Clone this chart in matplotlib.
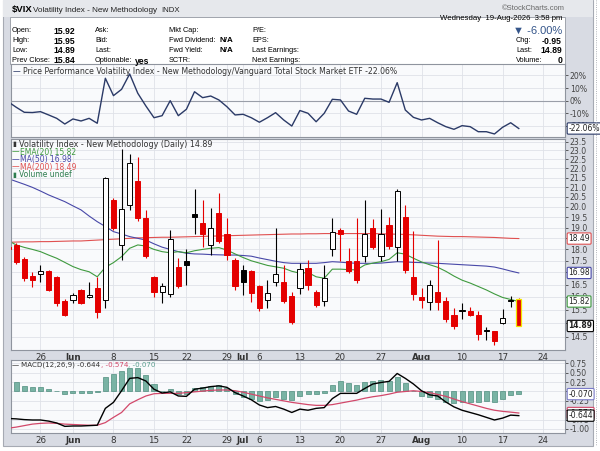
import matplotlib
matplotlib.use("Agg")
import matplotlib.pyplot as plt
from matplotlib.patches import Rectangle
from matplotlib.ticker import NullLocator

plt.rcParams['font.family'] = ['DejaVu Sans']

W, H = 600, 451

# trading-day index: 0 = 20 May 2026, -1 is the clipped candle at the left edge
days = list(range(-1, 63))

opens = [18.1, 18.2, 17.56, 16.85, 16.95, 17.05, 16.79, 15.84, 15.88, 16.28,
         15.99, 16.35, 15.88, 20.34, 18.2, 20.1, 21.3, 19.45, 16.79, 16.2,
         16.1, 17.25, 17.5, 19.65, 19.2, 18.2, 19.7, 18.7, 17.53, 17.1,
         17.05, 16.45, 15.88, 16.6, 16.6, 16.05, 16.35, 17.2, 16.2, 15.85,
         18.0, 18.9, 17.5, 17.5, 17.7, 19.0, 17.7, 19.1, 18.1, 19.5,
         16.8, 16.0, 15.8, 16.2, 15.85, 15.3, 15.45, 15.45, 15.3, 14.72,
         14.7, 15.0, 15.88, 15.92]
highs = [18.2, 18.3, 17.65, 17.0, 17.3, 17.12, 16.85, 15.9, 16.16, 16.32,
         16.62, 16.82, 21.55, 20.45, 23.1, 22.8, 22.64, 19.84, 16.85, 16.55,
         18.9, 17.62, 18.0, 20.9, 20.34, 19.95, 20.7, 19.45, 17.63, 17.32,
         17.1, 16.5, 16.68, 19.0, 17.32, 16.2, 17.4, 17.53, 16.28, 17.32,
         19.46, 19.0, 18.08, 19.46, 20.34, 19.4, 19.9, 19.5, 20.9, 20.1,
         18.82, 16.36, 16.69, 18.42, 15.99, 15.58, 15.75, 15.62, 15.45, 14.87,
         14.7, 15.52, 16.05, 15.95]
lows = [17.95, 17.38, 16.66, 16.4, 16.6, 16.22, 15.65, 15.25, 15.78, 15.72,
        15.95, 15.18, 15.55, 18.9, 17.53, 19.85, 19.3, 17.6, 16.0, 15.77,
        16.0, 16.35, 16.5, 18.7, 18.1, 17.75, 18.3, 17.53, 16.28, 16.06,
        15.82, 15.47, 15.55, 16.45, 15.78, 14.95, 16.1, 16.28, 15.62, 15.66,
        17.71, 17.5, 16.98, 16.55, 17.43, 18.0, 17.5, 18.0, 17.5, 16.98,
        15.88, 15.57, 15.5, 15.5, 15.05, 14.78, 15.14, 15.27, 14.39, 14.39,
        14.2, 14.98, 15.62, 14.89]
closes = [18.0, 17.45, 16.76, 16.69, 17.05, 16.28, 15.75, 15.3, 16.07, 15.78,
          16.07, 15.43, 21.5, 18.98, 19.89, 22.3, 19.44, 17.7, 16.2, 16.44,
          18.45, 16.45, 17.3, 19.5, 18.7, 19.0, 18.4, 17.76, 16.45, 16.6,
          16.15, 15.57, 16.15, 16.95, 15.84, 15.05, 17.15, 16.5, 15.7, 16.75,
          18.8, 18.7, 17.05, 16.7, 18.7, 18.1, 18.7, 18.15, 20.8, 17.1,
          16.1, 15.88, 16.5, 15.8, 15.15, 14.9, 15.5, 15.3, 14.6, 14.7,
          14.35, 15.2, 15.84, 14.89]

ema20 = [18.4, 18.2, 18.09, 18.0, 17.9, 17.75, 17.61, 17.43, 17.25, 17.12,
         17.03, 16.82, 17.22, 17.42, 17.68, 18.05, 18.2, 18.15, 18.0, 17.9,
         17.85, 17.9, 17.85, 17.94, 18.0, 18.05, 18.08, 17.97, 17.8, 17.64,
         17.5, 17.4, 17.3, 17.24, 17.18, 17.05, 16.97, 17.0, 16.82, 16.76,
         17.14, 17.14, 17.12, 17.11, 17.32, 17.4, 17.46, 17.56, 17.85, 17.79,
         17.61, 17.45, 17.33, 17.22, 17.05, 16.85, 16.68, 16.56, 16.42, 16.28,
         16.12, 15.98, 15.9, 15.82]
ma50 = [21.45, 21.3, 21.15, 20.99, 20.8, 20.6, 20.43, 20.26, 20.05, 19.85,
        19.55, 19.28, 19.05, 18.81, 18.7, 18.58, 18.5, 18.42, 18.25, 18.1,
        18.0, 17.9, 17.83, 17.8, 17.79, 17.77, 17.76, 17.75, 17.75, 17.73,
        17.7, 17.62, 17.55, 17.48, 17.42, 17.39, 17.39, 17.39, 17.39, 17.42,
        17.46, 17.44, 17.41, 17.39, 17.39, 17.39, 17.4, 17.43, 17.46, 17.45,
        17.43, 17.42, 17.4, 17.39, 17.37, 17.35, 17.33, 17.31, 17.29, 17.27,
        17.23, 17.15, 17.06, 16.98]
ma200 = [18.32, 18.33, 18.34, 18.34, 18.35, 18.35, 18.36, 18.37, 18.38, 18.38,
         18.4, 18.42, 18.44, 18.46, 18.48, 18.5, 18.52, 18.53, 18.54, 18.55,
         18.55, 18.56, 18.57, 18.58, 18.59, 18.6, 18.61, 18.62, 18.63, 18.64,
         18.65, 18.66, 18.67, 18.68, 18.69, 18.7, 18.7, 18.71, 18.71, 18.72,
         18.72, 18.72, 18.72, 18.72, 18.72, 18.72, 18.71, 18.7, 18.69, 18.68,
         18.66, 18.64, 18.62, 18.6, 18.59, 18.58, 18.58, 18.57, 18.56, 18.55,
         18.54, 18.52, 18.5, 18.49]

perf_pct = [-0.8, -5.2, -9.2, -9.4, -8.7, -11.3, -14.0, -18.5, -14.5, -16.1,
            -14.0, -17.9, 17.8, 4.0, 9.0, 21.2, 5.9, -4.2, -13.5, -11.9,
            0.0, -11.9, -6.8, 7.1, 2.4, 3.7, 0.6, -4.8, -11.3, -10.8,
            -13.5, -17.1, -13.5, -9.5, -15.3, -20.1, -7.8, -10.0, -16.7, -10.0,
            1.1, 0.6, -8.2, -10.8, 1.9, 1.3, 1.3, -1.3, 14.3, -7.4,
            -13.2, -15.3, -14.0, -17.5, -20.6, -22.7, -19.8, -20.6, -24.6, -24.6,
            -26.4, -21.1, -17.5, -22.06]

macd = [-0.72, -0.73, -0.75, -0.76, -0.76, -0.79, -0.84, -0.93, -0.92, -0.92,
        -0.91, -0.90, -0.45, -0.29, 0.02, 0.35, 0.37, 0.28, 0.06, -0.04,
        -0.01, -0.12, -0.13, 0.06, 0.09, 0.13, 0.15, 0.11, -0.03, -0.12,
        -0.22, -0.36, -0.43, -0.40, -0.47, -0.56, -0.47, -0.50, -0.45, -0.43,
        -0.19, -0.05, -0.05, -0.05, 0.08, 0.20, 0.24, 0.27, 0.48, 0.35,
        0.20, 0.02, -0.09, -0.12, -0.28, -0.41, -0.50, -0.56, -0.62, -0.69,
        -0.76, -0.71, -0.63, -0.644]
signal = [-0.98, -0.95, -0.91, -0.87, -0.85, -0.84, -0.85, -0.87, -0.88, -0.89,
          -0.90, -0.90, -0.83, -0.69, -0.56, -0.33, -0.22, -0.12, -0.06, -0.05,
          -0.05, -0.05, -0.03, -0.01, 0.01, 0.03, 0.04, 0.04, 0.02, -0.02,
          -0.07, -0.12, -0.17, -0.21, -0.25, -0.29, -0.32, -0.35, -0.37, -0.37,
          -0.35, -0.31, -0.27, -0.23, -0.18, -0.14, -0.11, -0.07, -0.02, 0.0,
          0.02, 0.0, -0.03, -0.08, -0.13, -0.20, -0.27, -0.33, -0.39, -0.45,
          -0.50, -0.53, -0.55, -0.574]
hist = [0.267, 0.24, 0.151, 0.107, 0.107, 0.062, 0.01, -0.071, -0.044, -0.027,
        -0.027, -0.018, 0.39, 0.46, 0.55, 0.62, 0.62, 0.435, 0.196, 0.02,
        0.062, -0.071, -0.071, 0.08, 0.107, 0.151, 0.169, 0.08, -0.071, -0.16,
        -0.204, -0.249, -0.222, -0.16, -0.187, -0.222, -0.116, -0.071, -0.071, -0.027,
        0.178, 0.267, 0.222, 0.169, 0.24, 0.267, 0.302, 0.267, 0.39, 0.222,
        0.01, -0.116, -0.16, -0.204, -0.276, -0.311, -0.293, -0.276, -0.276, -0.249,
        -0.276, -0.204, -0.089, -0.070]

tick_days = [3, 7, 12, 17, 21, 26, 28, 30, 35, 40, 45, 50, 55, 60, 65]
tick_labels = ['26', 'Jun', '8', '15', '22', '29', 'Jul', '6', '13', '20',
               '27', 'Aug', '10', '17', '24']
months = ['Jun', 'Jul', 'Aug']

price_ticks = [14.5, 15.0, 15.5, 16.0, 16.5, 17.0, 17.5, 18.0, 18.5, 19.0,
               19.5, 20.0, 20.5, 21.0, 21.5, 22.0, 22.5, 23.0, 23.5]
perf_ticks = [20, 10, 0, -10, -20]
macd_ticks = [0.75, 0.5, 0.25, 0.0, -0.25, -0.5, -0.75, -1.0]

FRAME = '#d8dbe3'
PANEL = '#f9fafc'
GRID = '#dfe2e8'
SPINE = '#8f949e'
RED = '#e40000'
GREEN = '#3f9a3f'
BLUE = '#4848a8'
MA_RED = '#e05050'
NAVY = '#2b3a67'
TEAL = '#79b3a4'

fig = plt.figure(figsize=(6.0, 4.51), dpi=100)
fig.patch.set_facecolor('white')


def fx(x):
    return x / W


def fy(y):
    return 1 - y / H


def prect(x0, y0, x1, y1, **kw):
    fig.add_artist(Rectangle((fx(x0), fy(y1)), (x1 - x0) / W, (y1 - y0) / H,
                             transform=fig.transFigure, **kw))


def panel(x0, y0, x1, y1):
    ax = fig.add_axes([fx(x0), fy(y1), (x1 - x0) / W, (y1 - y0) / H])
    ax.set_facecolor(PANEL)
    for s in ax.spines.values():
        s.set_color(SPINE)
        s.set_linewidth(0.8)
    ax.set_xlim(-0.7, 67.7)
    ax.set_xticks(tick_days)
    ax.grid(True, color=GRID, lw=0.6)
    ax.set_axisbelow(True)
    ax.yaxis.tick_right()
    ax.tick_params(axis='y', labelsize=5.6, colors='#444444', length=2, pad=1.5,
                   width=0.6)
    ax.tick_params(axis='x', length=0, pad=2, labelsize=6.3, colors='#333333')
    return ax


def ftext(x, y, s, **kw):
    kw.setdefault('va', 'center')
    kw.setdefault('fontsize', 6)
    return fig.text(fx(x), fy(y), s, **kw)


def chain_text(x, y, parts, size, **kw):
    r = fig.canvas.get_renderer()
    for s, col in parts:
        t = ftext(x, y, s, color=col, fontsize=size, **kw)
        x += t.get_window_extent(renderer=r).width
    return x


def value_box(ax, val, txt, col, bold=False):
    ax.text(1.006, val, txt, transform=ax.get_yaxis_transform(), ha='left',
            va='center', fontsize=5.5, color='#222222', clip_on=False, zorder=10,
            fontweight='bold' if bold else 'normal',
            bbox=dict(boxstyle='round,pad=0.15', fc='white', ec=col, lw=0.8))


# page frame and header
prect(3, 0, 593, 446, facecolor=FRAME, edgecolor='#a6aab3', lw=0.8, zorder=0)
prect(3, 0, 593, 17, facecolor='#e6e8ec', edgecolor='none', zorder=0)
prect(10, 17, 565, 64, facecolor='white', edgecolor='#a0a4ac', lw=0.7, zorder=0)
fig.add_artist(plt.Line2D([fx(596), fx(596)], [fy(0), fy(446)],
                          transform=fig.transFigure, color='#9a9ea6', lw=0.6,
                          ls=':'))

hdr = ['Liberation Sans', 'DejaVu Sans']
ftext(11.5, 9.5, '$VIX', fontsize=6.8, fontweight='bold', family=hdr)
xe = chain_text(33, 10, [('Volatility Index - New Methodology', '#222222')],
                5.9, family=hdr)
ftext(xe + 4, 10, 'INDX', fontsize=5.6, family=hdr, color='#222222')
ftext(565, 9, '\u00a9StockCharts.com', fontsize=5.4, family=hdr, ha='right',
      color='#666666')

LAB = 5.3
VAL = 6.2
rows_y = [31, 41, 50.5, 60.5]
for y, lab, val in zip(rows_y, ['Open:', 'High:', 'Low:', 'Prev Close:'],
                       ['15.92', '15.95', '14.89', '15.84']):
    ftext(12, y, lab, fontsize=LAB, family=hdr)
    ftext(75, y, val, fontsize=VAL, family=hdr, fontweight='bold', ha='right')
for y, lab in zip(rows_y, ['Ask:', 'Bid:', 'Last:', 'Optionable:']):
    ftext(95, y, lab, fontsize=LAB, family=hdr)
ftext(135, rows_y[3] + 0.5, 'yes', fontsize=VAL, family=hdr, fontweight='bold')
for y, lab in zip(rows_y, ['Mkt Cap:', 'Fwd Dividend:', 'Fwd Yield:', 'SCTR:']):
    ftext(169, y, lab, fontsize=LAB, family=hdr)
ftext(233, rows_y[1], 'N/A', fontsize=5.8, family=hdr, fontweight='bold',
      ha='right')
ftext(233, rows_y[2], 'N/A', fontsize=5.8, family=hdr, fontweight='bold',
      ha='right')
for y, lab in zip(rows_y, ['P/E:', 'EPS:', 'Last Earnings:', 'Next Earnings:']):
    ftext(252, y, lab, fontsize=LAB, family=hdr)

ftext(562, 19, 'Wednesday  19-Aug-2026  3:58 pm', fontsize=5.6, family=hdr,
      ha='right')
ftext(562, 30.5, '\u25bc -6.00%', fontsize=8, family=hdr, ha='right',
      color='#34558a')
for y, lab, val in zip([41, 50.5, 60.5], ['Chg:', 'Last:', 'Volume:'],
                       ['-0.95', '14.89', '0']):
    ftext(516, y, lab, fontsize=LAB, family=hdr)
    ftext(562, y, val, fontsize=VAL, family=hdr, fontweight='bold', ha='right')

# price performance panel
ax_perf = panel(10.5, 64.5, 565, 137)
ax_perf.plot(days, perf_pct, color=NAVY, lw=1.0, zorder=3)
ax_perf.set_ylim(-28.8, 28.7)
ax_perf.set_yticks(perf_ticks)
ax_perf.set_yticklabels([f'{t}%' for t in perf_ticks])
ax_perf.axhline(0, color='#9a9ea8', lw=0.8, zorder=1)
ax_perf.tick_params(axis='x', labelbottom=False)
value_box(ax_perf, perf_pct[-1], '-22.06%', NAVY)
chain_text(13, 71, [('\u2014 ', NAVY),
                    ('Price Performance Volatility Index - New Methodology/'
                     'Vanguard Total Stock Market ETF -22.06%', '#333333')], 5.6)

# candlestick panel
ax = panel(10.5, 138.5, 565, 350)
ax.set_yscale('log')
ax.set_ylim(14.03, 23.69)
ax.set_yticks(price_ticks)
ax.set_yticklabels([f'{t:.1f}' for t in price_ticks])
ax.yaxis.set_minor_locator(NullLocator())
ax.set_xticklabels(tick_labels)

ax.plot(days, ma200, color=MA_RED, lw=0.8, zorder=2)
ax.plot(days, ma50, color=BLUE, lw=0.8, zorder=2)
ax.plot(days, ema20, color=GREEN, lw=0.8, zorder=2)

prev = None
for i, (d, o, h, l, c) in enumerate(zip(days, opens, highs, lows, closes)):
    col = RED if prev is None or c < prev else 'black'
    ax.vlines(d, l, h, color=col, lw=0.8, zorder=3)
    lo, hi = min(o, c), max(o, c)
    if hi - lo < 0.03:
        hi = lo + 0.03
    edge = '#f2e600' if i == len(days) - 1 else col
    ax.add_patch(Rectangle((d - 0.32, lo), 0.64, hi - lo,
                           facecolor=col if c < o else 'white',
                           edgecolor=edge, lw=0.9 if edge != col else 0.7,
                           zorder=4))
    prev = c

value_box(ax, ma200[-1], '18.49', MA_RED)
value_box(ax, ma50[-1], '16.98', BLUE)
value_box(ax, ema20[-1], '15.82', GREEN)
value_box(ax, closes[-1], '14.89', 'black', bold=True)

ftext(12.5, 144.5, '\u25ae', fontsize=5, color='#333333')
ftext(19, 144.5, 'Volatility Index - New Methodology (Daily) 14.89',
      fontsize=5.8, color='#333333')
for y, lab, col in zip([152, 159.5, 167], ['EMA(20) 15.82', 'MA(50) 16.98',
                                           'MA(200) 18.49'],
                       [GREEN, BLUE, MA_RED]):
    chain_text(12, y, [('\u2014', col), (lab, col)], 5.5)
ftext(12.5, 174.5, '\u25ae', fontsize=5, color='#2e7d4f')
ftext(19, 174.5, 'Volume undef', fontsize=5.5, color='#2e7d4f')

# MACD panel
axm = panel(10.5, 359.5, 565, 433)
axm.bar(days, hist, width=0.62, color=TEAL, edgecolor='#4f8d7e', lw=0.5,
        zorder=2)
axm.plot(days, signal, color='#d2486a', lw=0.9, zorder=3)
axm.plot(days, macd, color='black', lw=1.0, zorder=4)
axm.set_ylim(-1.107, 0.853)
axm.set_yticks(macd_ticks)
axm.set_yticklabels([f'{t:.2f}' for t in macd_ticks])
axm.set_xticklabels(tick_labels)
value_box(axm, hist[-1], '-0.070', '#7a7ac8')
value_box(axm, signal[-1], '-0.574', '#d2486a')
value_box(axm, macd[-1], '-0.644', 'black')
chain_text(12, 365, [('\u2014 ', 'black'), ('MACD(12,26,9) -0.644', '#333333'),
                     (', -0.574', '#d2486a'), (', -0.070', '#5a9e8e')], 5.1)

for a in (ax, axm):
    for lbl in a.get_xticklabels():
        if lbl.get_text() in months:
            lbl.set_fontweight('bold')

fig.savefig('out.png', dpi=100, facecolor=fig.get_facecolor())
